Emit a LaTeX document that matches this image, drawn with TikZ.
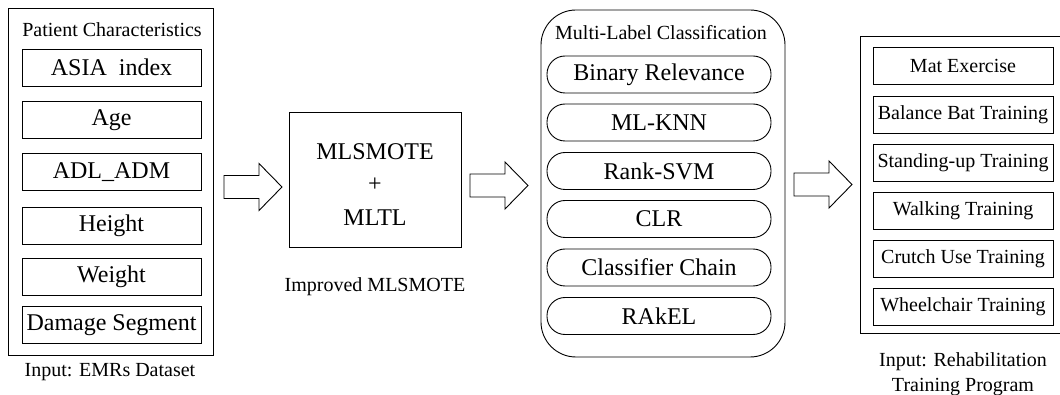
\documentclass[tikz,border=0pt]{standalone}
\usepackage{fontspec}
\setmainfont{Liberation Serif}
\tikzset{
  frame/.style={draw, line width=0.9pt, inner sep=0pt},
  bigtext/.style={font=\fontsize{24}{28}\selectfont},
  smalltext/.style={font=\fontsize{20}{25}\selectfont},
  leftbox/.style={frame, bigtext, minimum width=179pt, minimum height=37pt},
  rightbox/.style={frame, smalltext, minimum width=180pt, minimum height=37pt},
  pill/.style={frame, bigtext, minimum width=224pt, minimum height=37pt, rounded corners=18pt},
  caption/.style={smalltext, inner sep=0pt, align=center},
  fat/.style={draw, line width=0.9pt, line join=miter, fill=white}
}
% hollow block arrow: start x, tip x, centre y
\newcommand\blockarrow[3]{%
  \draw[fat] (#1,#3-11.5) -- (#2-23,#3-11.5) -- (#2-23,#3-23.5) -- (#2,#3)
    -- (#2-23,#3+23.5) -- (#2-23,#3+11.5) -- (#1,#3+11.5) -- cycle;}
\begin{document}
\begin{tikzpicture}[x=1pt,y=-1pt]
\useasboundingbox (0,0) rectangle (1060,395);
\clip (0,0) rectangle (1060,395);

% input features
\node[frame, minimum width=205pt, minimum height=347pt] (pc) at (110.5,181.5) {};
\node[caption] (pctitle) at (112,30) {Patient Characteristics};
\node[leftbox] (asia) at (111.5,67.5) {ASIA\ \ index};
\node[leftbox] (age) at (111.5,120) {Age};
\node[leftbox] (adl) at (111.5,172) {ADL\_ADM};
\node[leftbox] (height) at (111.5,226) {Height};
\node[leftbox] (weight) at (111.5,276.5) {Weight};
\node[leftbox] (damage) at (111.5,325) {Damage Segment};
\node[caption] (pclabel) at (110,372) {Input: EMRs Dataset};

% oversampling step
\node[frame, minimum width=172pt, minimum height=135pt] (ml) at (375,179.5) {};
\node[bigtext, inner sep=0pt] (ml1) at (375,152) {MLSMOTE};
\node[bigtext, inner sep=0pt] (ml2) at (375,185) {+};
\node[bigtext, inner sep=0pt] (ml3) at (375,218) {MLTL};
\node[caption] (mllabel) at (375,287) {Improved MLSMOTE};

% classifiers
\node[frame, minimum width=244pt, minimum height=347pt, rounded corners=35pt] (mlc) at (663,183.5) {};
\node[caption] (mlctitle) at (661,33) {Multi-Label Classification};
\node[pill] (br) at (659,74.5) {Binary Relevance};
\node[pill] (knn) at (659,122.5) {ML-KNN};
\node[pill] (svm) at (659,171) {Rank-SVM};
\node[pill] (clr) at (659,219) {CLR};
\node[pill] (cc) at (659,267.5) {Classifier Chain};
\node[pill] (rakel) at (659,316) {RAkEL};

% output programs
\node[frame, minimum width=205pt, minimum height=297pt] (rt) at (962.5,184.5) {};
\node[rightbox] (mat) at (963,66) {Mat Exercise};
\node[rightbox] (bal) at (963,114.5) {Balance Bat Training};
\node[rightbox] (stand) at (963,162.5) {Standing-up Training};
\node[rightbox] (walk) at (963,211) {Walking Training};
\node[rightbox] (crutch) at (963,259) {Crutch Use Training};
\node[rightbox] (wheel) at (963,307) {Wheelchair Training};
\node[caption] (rtlabel) at (963,374.5) {Input: Rehabilitation\\Training Program};

% flow arrows
\blockarrow{224}{282}{187}
\blockarrow{470}{528}{185.5}
\blockarrow{794}{852}{184.5}
\end{tikzpicture}
\end{document}
